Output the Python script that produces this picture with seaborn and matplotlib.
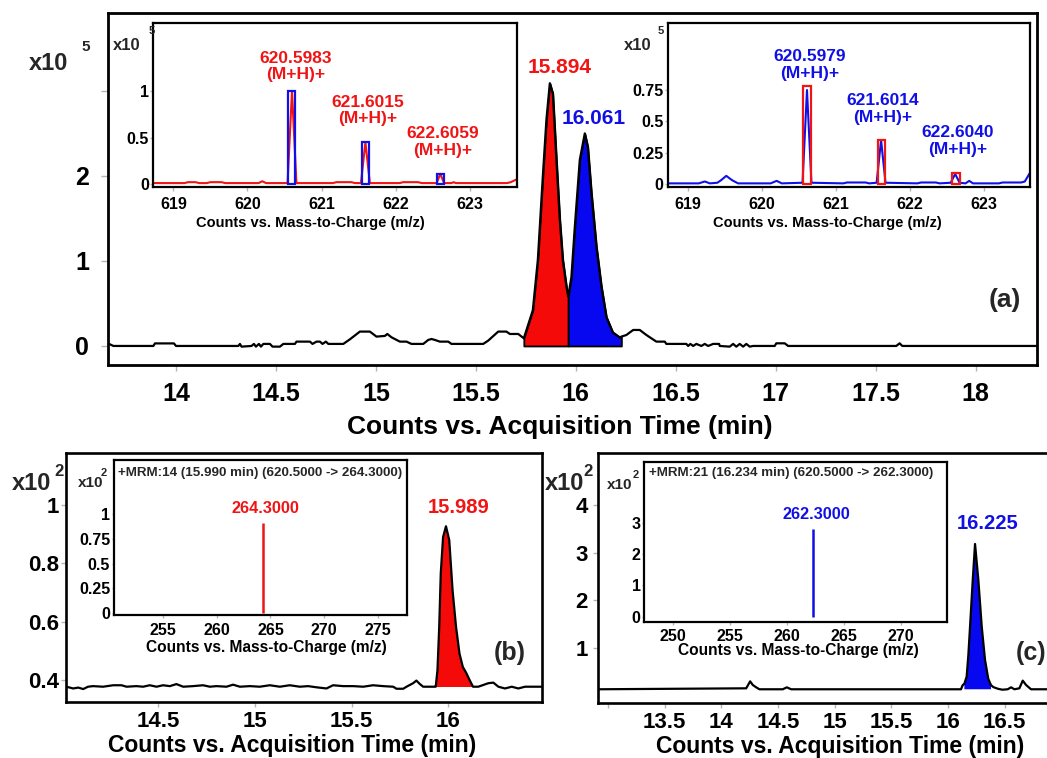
import matplotlib
matplotlib.use('Agg')
import matplotlib.pyplot as plt
import seaborn as sns
import numpy as np

# ---------------- data ----------------
# (a) total chromatogram, x10^5 counts
a_base_left_t = [13.66, 13.687, 13.887, 13.895, 13.99, 14.0, 14.312, 14.32, 14.328, 14.378, 14.39, 14.40, 14.415,
                 14.425, 14.437, 14.47, 14.483, 14.52, 14.537, 14.595, 14.603, 14.67, 14.683, 14.703, 14.72, 14.733,
                 14.75, 14.762, 14.837, 14.87, 14.92, 14.97, 15.003, 15.045, 15.057, 15.078, 15.12, 15.153, 15.178,
                 15.237, 15.262, 15.278, 15.295, 15.32, 15.362, 15.378, 15.537, 15.562, 15.612, 15.653, 15.67, 15.712]
a_base_left_c = [0.03, 0.0, 0.0, 0.03, 0.03, 0.0, 0.0, 0.024, -0.008, 0.0, 0.024, -0.008, 0.024,
                 -0.008, 0.024, 0.024, -0.008, -0.008, 0.024, 0.024, 0.051, 0.051, 0.024, 0.051, 0.051, 0.024,
                 0.051, 0.024, 0.024, 0.078, 0.169, 0.169, 0.110, 0.118, 0.141, 0.102, 0.051, 0.051, 0.024,
                 0.024, 0.071, 0.082, 0.071, 0.051, 0.051, 0.024, 0.024, 0.063, 0.169, 0.169, 0.141, 0.141]
a_peak_t = [15.74, 15.785, 15.81, 15.835, 15.853, 15.87, 15.885, 15.903, 15.92, 15.935, 15.953, 15.962,
            15.978, 15.995, 16.02, 16.045, 16.06, 16.078, 16.103, 16.128, 16.153, 16.185, 16.22, 16.228]
a_peak_c = [0.09, 0.42, 1.01, 1.99, 2.66, 3.09, 2.97, 2.19, 1.48, 1.01, 0.70, 0.58,
            0.81, 1.40, 2.19, 2.50, 2.34, 1.80, 1.17, 0.70, 0.34, 0.16, 0.10, 0.11]
a_base_right_t = [16.253, 16.287, 16.32, 16.353, 16.403, 16.445, 16.453, 16.553, 16.562, 16.573, 16.587, 16.603,
                  16.628, 16.645, 16.662, 16.687, 16.717, 16.72, 16.77, 16.787, 16.803, 16.82, 16.837, 16.853,
                  16.87, 16.887, 16.995, 17.003, 17.045, 17.062, 17.603, 17.62, 17.633, 18.305]
a_base_right_c = [0.129, 0.188, 0.188, 0.129, 0.051, 0.051, 0.024, 0.024, 0.0, 0.024, 0.0, 0.024,
                  0.0, 0.024, 0.0, 0.024, 0.024, 0.0, -0.008, 0.024, -0.008, 0.024, -0.008, 0.024,
                  -0.008, 0.0, 0.0, 0.031, 0.031, 0.0, 0.0, 0.031, 0.0, 0.0]
a_red_window = [15.74, 15.962]
a_blue_window = [15.962, 16.228]
a_xticks = [14, 14.5, 15, 15.5, 16, 16.5, 17, 17.5, 18]
a_xticklabels = ['14', '14.5', '15', '15.5', '16', '16.5', '17', '17.5', '18']
a_yticks = [0, 1, 2, 3]
a_yticklabels = ['0', '1', '2', '']
a_peak_labels = ['15.894', '16.061']

# (a) inset spectra, x10^5 counts
ms1_red_mz = [618.73, 619.15, 619.2, 619.3, 619.35, 619.45, 619.5, 619.65, 619.7, 620.15, 620.2, 620.25,
              620.54, 620.6, 620.66, 621.15, 621.2, 621.4, 621.45, 621.53, 621.59, 621.65, 622.05, 622.1,
              622.3, 622.35, 622.55, 622.6, 622.65, 622.75, 622.78, 622.81, 623.5, 623.55, 623.63]
ms1_red_int = [0.01, 0.01, 0.02, 0.02, 0.01, 0.01, 0.02, 0.02, 0.01, 0.01, 0.03, 0.01,
               0.01, 1.0, 0.01, 0.01, 0.02, 0.02, 0.01, 0.01, 0.45, 0.01, 0.01, 0.02,
               0.02, 0.01, 0.01, 0.11, 0.01, 0.01, 0.02, 0.01, 0.01, 0.02, 0.05]
ms1_box_mz = [620.59, 621.59, 622.605]
ms1_box_h = [1.0, 0.45, 0.11]
ms1_labels = ['620.5983\n(M+H)+', '621.6015\n(M+H)+', '622.6059\n(M+H)+']

ms2_blue_mz = [618.73, 619.15, 619.23, 619.3, 619.4, 619.45, 619.52, 619.6, 619.68, 620.12, 620.2, 620.27,
               620.55, 620.61, 620.67, 621.1, 621.15, 621.4, 621.45, 621.55, 621.61, 621.67, 622.1, 622.15,
               622.35, 622.4, 622.55, 622.61, 622.67, 622.75, 622.8, 622.85, 623.2, 623.25, 623.5, 623.55, 623.63]
ms2_blue_int = [0.005, 0.005, 0.02, 0.005, 0.01, 0.03, 0.065, 0.03, 0.005, 0.005, 0.025, 0.005,
                0.01, 0.75, 0.01, 0.005, 0.012, 0.012, 0.005, 0.01, 0.35, 0.01, 0.005, 0.012,
                0.012, 0.005, 0.01, 0.08, 0.01, 0.005, 0.025, 0.005, 0.005, 0.012, 0.012, 0.02, 0.1]
ms2_box_mz = [620.61, 621.615, 622.62]
ms2_box_h = [0.78, 0.355, 0.09]
ms2_labels = ['620.5979\n(M+H)+', '621.6014\n(M+H)+', '622.6040\n(M+H)+']
ms_xticks = [619, 620, 621, 622, 623]

# (b) MRM chromatogram, x10^2 counts
b_base_left_t = [14.025, 14.06, 14.086, 14.112, 14.137, 14.163, 14.215, 14.267, 14.31, 14.336, 14.387, 14.422,
                 14.456, 14.491, 14.525, 14.56, 14.594, 14.629, 14.68, 14.732, 14.767, 14.801, 14.853, 14.887,
                 14.922, 14.974, 15.025, 15.077, 15.129, 15.18, 15.232, 15.275, 15.318, 15.37, 15.404, 15.456,
                 15.508, 15.56, 15.611, 15.663, 15.715, 15.732, 15.767, 15.784, 15.818, 15.835, 15.853, 15.87, 15.93]
b_base_left_c = [0.377, 0.371, 0.374, 0.369, 0.377, 0.379, 0.377, 0.382, 0.382, 0.377, 0.379, 0.377,
                 0.382, 0.377, 0.382, 0.379, 0.386, 0.377, 0.379, 0.382, 0.377, 0.379, 0.377, 0.384,
                 0.377, 0.379, 0.377, 0.382, 0.377, 0.382, 0.377, 0.379, 0.375, 0.371, 0.382, 0.379,
                 0.379, 0.377, 0.382, 0.379, 0.377, 0.370, 0.370, 0.377, 0.389, 0.398, 0.386, 0.377, 0.377]
b_peak_t = [15.935, 15.944, 15.953, 15.961, 15.973, 15.988, 16.005, 16.022, 16.04, 16.058, 16.075, 16.093, 16.11, 16.128]
b_peak_c = [0.377, 0.434, 0.582, 0.765, 0.89, 0.927, 0.879, 0.708, 0.582, 0.49, 0.445, 0.424, 0.40, 0.377]
b_base_right_t = [16.155, 16.207, 16.233, 16.259, 16.293, 16.328, 16.362, 16.397, 16.483]
b_base_right_c = [0.377, 0.389, 0.391, 0.377, 0.371, 0.377, 0.371, 0.377, 0.377]
b_baseline = 0.376
b_xticks = [14.5, 15, 15.5, 16]
b_xticklabels = ['14.5', '15', '15.5', '16']
b_yticks = [0.4, 0.6, 0.8, 1.0]
b_yticklabels = ['0.4', '0.6', '0.8', '1']
b_ms_mz = [264.3]
b_ms_int = [0.91]
b_ms_xticks = [255, 260, 265, 270, 275]
b_ms_yticks = [0, 0.25, 0.5, 0.75, 1]
b_ms_yticklabels = ['0', '0.25', '0.5', '0.75', '1']

# (c) MRM chromatogram, x10^2 counts
c_base_left_t = [12.91, 14.22, 14.255, 14.278, 14.308, 14.337, 14.543, 14.578, 14.617, 16.115]
c_base_left_c = [0.134, 0.154, 0.30, 0.224, 0.175, 0.134, 0.134, 0.175, 0.134, 0.134]
c_peak_t = [16.13, 16.145, 16.165, 16.18, 16.195, 16.219, 16.239, 16.268, 16.298, 16.327, 16.356, 16.38]
c_peak_c = [0.22, 0.25, 0.40, 0.85, 1.45, 2.43, 3.18, 2.43, 1.45, 0.75, 0.35, 0.22]
c_base_right_t = [16.40, 16.44, 16.48, 16.527, 16.557, 16.586, 16.63, 16.66, 16.689, 16.733, 17.2]
c_base_right_c = [0.18, 0.145, 0.125, 0.134, 0.175, 0.134, 0.154, 0.315, 0.224, 0.134, 0.134]
c_baseline = 0.134
c_xticks = [13, 13.5, 14, 14.5, 15, 15.5, 16, 16.5]
c_xticklabels = ['', '13.5', '14', '14.5', '15', '15.5', '16', '16.5']
c_yticks = [1, 2, 3, 4]
c_yticklabels = ['1', '2', '3', '4']
c_ms_mz = [262.3]
c_ms_int = [2.79]
c_ms_xticks = [250, 255, 260, 265, 270]
c_ms_yticks = [0, 1, 2, 3]

# ---------------- style ----------------
sns.set_theme(style='white')
plt.rcParams['font.family'] = ['Liberation Sans', 'DejaVu Sans']
plt.rcParams['font.weight'] = 'bold'
plt.rcParams['axes.labelweight'] = 'bold'

RED = '#f01414'
BLUE = '#1010e6'
FILL_RED = '#f50a0a'
FILL_BLUE = '#0808f0'
TICKC = '#b4b4b4'

W, H = 1047, 758
fig = plt.figure(figsize=(W / 100, H / 100), dpi=100)


def px_axes(x0, y0, x1, y1):
    ax = fig.add_axes([x0 / W, 1 - y1 / H, (x1 - x0) / W, (y1 - y0) / H])
    ax.set_facecolor('white')
    return ax


def frame(ax, lw):
    for s in ax.spines.values():
        s.set_visible(True)
        s.set_color('black')
        s.set_linewidth(lw)


def ticks(ax, size, xpad, ypad, xlen, ylen):
    ax.tick_params(axis='x', bottom=True, direction='out', color=TICKC, length=xlen,
                   width=1, labelsize=size, pad=xpad, labelcolor='black')
    ax.tick_params(axis='y', left=True, direction='out', color=TICKC, length=ylen,
                   width=1, labelsize=size, pad=ypad, labelcolor='black')


def xlabel(ax, text, size, x, y):
    ax.set_xlabel(text, fontsize=size, fontweight='bold', color='black')
    ax.xaxis.set_label_coords(x, y)
    ax.xaxis.label.set_va('center')


def sci(x, y, size, sup, sx, sy, ssize):
    fig.text(x / W, 1 - y / H, 'x10', ha='left', va='center', fontsize=size, fontweight='bold')
    fig.text(sx / W, 1 - sy / H, sup, ha='left', va='center', fontsize=ssize, fontweight='bold')


def trace(ax, t, c, color, lw):
    sns.lineplot(x=t, y=c, ax=ax, color=color, linewidth=lw, sort=False, estimator=None, legend=False)


# ---------------- (a) main ----------------
ax = px_axes(108, 12.7, 1037, 365)
a_t = np.array(a_base_left_t + a_peak_t + a_base_right_t)
a_c = np.array(a_base_left_c + a_peak_c + a_base_right_c)
m_red = (a_t >= a_red_window[0]) & (a_t <= a_red_window[1])
m_blue = (a_t >= a_blue_window[0]) & (a_t <= a_blue_window[1])
ax.fill_between(a_t, 0, a_c, where=m_red, facecolor=FILL_RED, edgecolor='black', linewidth=1.3, zorder=2)
ax.fill_between(a_t, 0, a_c, where=m_blue, facecolor=FILL_BLUE, edgecolor='black', linewidth=1.3, zorder=2)
trace(ax, a_t, a_c, 'black', 1.6)
ax.set_xlim(13.66, 18.307)
ax.set_ylim(-0.224, 3.92)
ax.set_xticks(a_xticks)
ax.set_xticklabels(a_xticklabels)
ax.set_yticks(a_yticks)
ax.set_yticklabels(a_yticklabels)
frame(ax, 2.0)
ticks(ax, 18, 8, 8.5, 4, 5)
xlabel(ax, 'Counts vs. Acquisition Time (min)', 19, 0.4865, -0.176)
ax.set_ylabel('')
ax.text(15.92, 3.27, a_peak_labels[0], color=RED, ha='center', va='center', fontsize=15, fontweight='bold')
ax.text(16.09, 2.68, a_peak_labels[1], color=BLUE, ha='center', va='center', fontsize=15, fontweight='bold')
ax.text(0.9655, 0.1845, '(a)', transform=ax.transAxes, ha='center', va='center', fontsize=19, fontweight='bold')
sci(29, 63, 17, '5', 81, 47, 11)


def ms_inset(box, xlim, ylim, mz, inten, lcolor, bmz, bh, bcolor, labels, lpos, yt, ytl, lab_x, lab_y):
    ia = px_axes(*box)
    ia.bar(bmz, bh, width=0.1, bottom=0, facecolor='none', edgecolor=bcolor, linewidth=1.6, zorder=3)
    trace(ia, mz, inten, lcolor, 1.5)
    ia.set_xlim(*xlim)
    ia.set_ylim(*ylim)
    ia.set_xticks(ms_xticks)
    ia.set_xticklabels([str(v) for v in ms_xticks])
    ia.set_yticks(yt)
    ia.set_yticklabels(ytl)
    frame(ia, 1.6)
    ticks(ia, 11.5, 4.5, 1.2, 3, 2)
    xlabel(ia, 'Counts vs. Mass-to-Charge (m/z)', 10.5, lab_x, lab_y)
    ia.set_ylabel('')
    for s, (x, y) in zip(labels, lpos):
        ia.text(x, y, s, color=lcolor, ha='center', va='center', fontsize=12.5, fontweight='bold',
                linespacing=1.12)
    return ia


ms_inset((153.3, 23, 516.7, 187), (618.73, 623.63), (-0.032, 1.731), ms1_red_mz, ms1_red_int, RED,
         ms1_box_mz, ms1_box_h, BLUE, ms1_labels,
         [(620.654, 1.265), (621.624, 0.79), (622.635, 0.45)], [0, 0.5, 1], ['0', '0.5', '1'], 0.431, -0.2195)
sci(113, 45, 12, '5', 148.5, 31, 8)

ms_inset((667.7, 23, 1030, 187), (618.73, 623.62), (-0.024, 1.285), ms2_blue_mz, ms2_blue_int, BLUE,
         ms2_box_mz, ms2_box_h, RED, ms2_labels,
         [(620.65, 0.95), (621.63, 0.60), (622.64, 0.343)], [0, 0.25, 0.5, 0.75], ['0', '0.25', '0.5', '0.75'],
         0.44, -0.217)
sci(624, 45, 12, '5', 658, 31, 8)

# ---------------- (b) ----------------
bx = px_axes(66, 453, 541.7, 702)
b_t = np.array(b_base_left_t + b_peak_t + b_base_right_t)
b_c = np.array(b_base_left_c + b_peak_c + b_base_right_c)
mb = (b_t >= b_peak_t[0]) & (b_t <= b_peak_t[-1])
bx.fill_between(b_t, b_baseline, b_c, where=mb, facecolor=FILL_RED, edgecolor='none', zorder=2)
trace(bx, b_t, b_c, 'black', 1.6)
bx.set_xlim(14.023, 16.483)
bx.set_ylim(0.3246, 1.178)
bx.set_xticks(b_xticks)
bx.set_xticklabels(b_xticklabels)
bx.set_yticks(b_yticks)
bx.set_yticklabels(b_yticklabels)
frame(bx, 1.9)
ticks(bx, 16, 3.0, 1.5, 3.5, 3.5)
xlabel(bx, 'Counts vs. Acquisition Time (min)', 16.5, 0.475, -0.175)
bx.set_ylabel('')
bx.text(16.055, 0.99, '15.989', color=RED, ha='center', va='center', fontsize=14.5, fontweight='bold')
bx.text(0.933, 0.197, '(b)', transform=bx.transAxes, ha='center', va='center', fontsize=18, fontweight='bold')
sci(12, 483.5, 17, '2', 54, 471, 12)

bi = px_axes(113.9, 460, 407.1, 615)
bi.vlines(b_ms_mz, 0, b_ms_int, color=RED, linewidth=1.8)
bi.set_xlim(250.4, 277.74)
bi.set_ylim(-0.017, 1.544)
bi.set_xticks(b_ms_xticks)
bi.set_xticklabels([str(v) for v in b_ms_xticks])
bi.set_yticks(b_ms_yticks)
bi.set_yticklabels(b_ms_yticklabels)
frame(bi, 1.6)
ticks(bi, 11.5, 3.5, 1.2, 2.5, 1.5)
xlabel(bi, 'Counts vs. Mass-to-Charge (m/z)', 11.2, 0.519, -0.21)
bi.text(264.5, 1.06, '264.3000', color=RED, ha='center', va='center', fontsize=11.7, fontweight='bold')
bi.text(0.014, 0.916, '+MRM:14 (15.990 min) (620.5000 -> 264.3000)', transform=bi.transAxes,
        ha='left', va='center', fontsize=9.6, fontweight='bold')
sci(77.5, 483, 11, '2', 101, 473, 8)

# ---------------- (c) ----------------
cx = px_axes(597.7, 453.3, 1080, 703.3)
c_t = np.array(c_base_left_t + c_peak_t + c_base_right_t)
c_c = np.array(c_base_left_c + c_peak_c + c_base_right_c)
mc = (c_t >= 16.145) & (c_t <= 16.38)
cx.fill_between(c_t, c_baseline, c_c, where=mc, facecolor=FILL_BLUE, edgecolor='none', zorder=2)
trace(cx, c_t, c_c, 'black', 1.6)
cx.set_xlim(12.91, 17.165)
cx.set_ylim(-0.16, 5.08)
cx.set_xticks(c_xticks)
cx.set_xticklabels(c_xticklabels)
cx.set_yticks(c_yticks)
cx.set_yticklabels(c_yticklabels)
frame(cx, 1.9)
ticks(cx, 16, 3.0, 3.5, 3.5, 3.5)
xlabel(cx, 'Counts vs. Acquisition Time (min)', 16.5, 0.502, -0.171)
cx.set_ylabel('')
cx.text(16.35, 3.6, '16.225', color=BLUE, ha='center', va='center', fontsize=14.5, fontweight='bold')
cx.text(0.898, 0.201, '(c)', transform=cx.transAxes, ha='center', va='center', fontsize=18, fontweight='bold')
sci(545, 484, 17, '2', 583, 471, 12)

ci = px_axes(644.3, 461.7, 947.3, 621.7)
ci.vlines(c_ms_mz, 0, c_ms_int, color=BLUE, linewidth=1.8)
ci.set_xlim(247.5, 274.1)
ci.set_ylim(-0.16, 4.95)
ci.set_xticks(c_ms_xticks)
ci.set_xticklabels([str(v) for v in c_ms_xticks])
ci.set_yticks(c_ms_yticks)
ci.set_yticklabels([str(v) for v in c_ms_yticks])
frame(ci, 1.6)
ticks(ci, 11.5, 2.5, 1.2, 2.5, 1.5)
xlabel(ci, 'Counts vs. Mass-to-Charge (m/z)', 11.2, 0.509, -0.183)
ci.text(262.57, 3.25, '262.3000', color=BLUE, ha='center', va='center', fontsize=11.7, fontweight='bold')
ci.text(0.0155, 0.929, '+MRM:21 (16.234 min) (620.5000 -> 262.3000)', transform=ci.transAxes,
        ha='left', va='center', fontsize=9.6, fontweight='bold')
sci(607, 485, 11, '2', 633, 475, 8)

fig.savefig('out.png', dpi=100)
